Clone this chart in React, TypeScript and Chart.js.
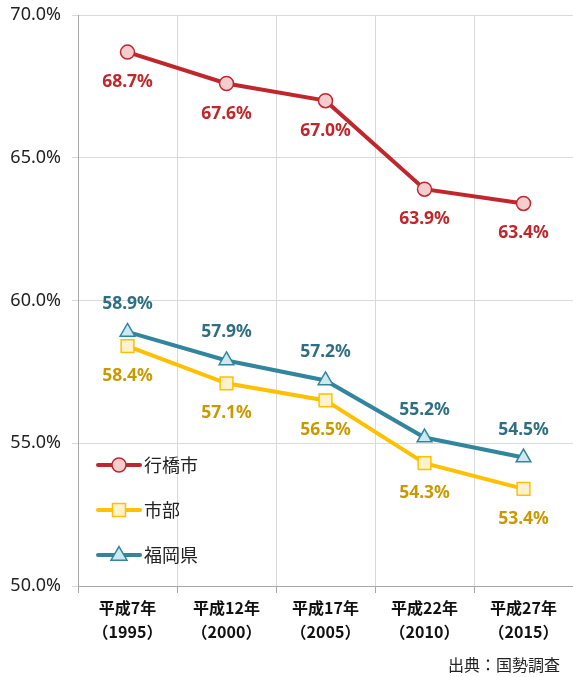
import React, { useEffect, useRef } from "react";
import { Chart, registerables } from "chart.js";

Chart.register(...registerables);

const categories: string[][] = [
  ["平成7年", "（1995）"],
  ["平成12年", "（2000）"],
  ["平成17年", "（2005）"],
  ["平成22年", "（2010）"],
  ["平成27年", "（2015）"],
];
const yukuhashi = [68.7, 67.6, 67.0, 63.9, 63.4];
const shibu = [58.4, 57.1, 56.5, 54.3, 53.4];
const fukuoka = [58.9, 57.9, 57.2, 55.2, 54.5];
const seriesNames = ["行橋市", "市部", "福岡県"];
const sourceText = "出典：国勢調査";

const series = [
  { name: seriesNames[0], data: yukuhashi, line: "#C0272D", fill: "#F6CDCF", text: "#C0272D", style: "circle", radius: 7, pr: 7, off: 30 },
  { name: seriesNames[1], data: shibu, line: "#FFC000", fill: "#FFF2CC", text: "#C89A00", style: "rect", radius: 6.5, pr: 9, off: 30 },
  { name: seriesNames[2], data: fukuoka, line: "#31869E", fill: "#CDE9F0", text: "#2F6F82", style: "triangle", radius: 8, pr: 8.5, off: -28 },
];

const FONT = "'Noto Sans', 'Noto Sans CJK JP', sans-serif";
const W = 573;
const H = 677;

function drawMarker(ctx: CanvasRenderingContext2D, style: string, x: number, y: number, r: number, fill: string, stroke: string) {
  ctx.save();
  ctx.fillStyle = fill;
  ctx.strokeStyle = stroke;
  ctx.lineWidth = 1.5;
  ctx.beginPath();
  if (style === "circle") {
    ctx.arc(x, y, r, 0, Math.PI * 2);
  } else if (style === "rect") {
    ctx.rect(x - r, y - r, r * 2, r * 2);
  } else {
    const h = r * 1.7;
    ctx.moveTo(x, y - h * 0.62);
    ctx.lineTo(x + r, y + h * 0.38);
    ctx.lineTo(x - r, y + h * 0.38);
    ctx.closePath();
  }
  ctx.fill();
  ctx.stroke();
  ctx.restore();
}

const customPlugin = {
  id: "customDraw",
  afterDatasetsDraw(chart: any) {
    const ctx: CanvasRenderingContext2D = chart.ctx;
    const area = chart.chartArea;
    series.forEach((s, i) => {
      const meta = chart.getDatasetMeta(i);
      meta.data.forEach((pt: any, j: number) => {
        ctx.save();
        ctx.font = `bold 17.5px ${FONT}`;
        ctx.fillStyle = s.text;
        ctx.textAlign = "center";
        ctx.textBaseline = "middle";
        ctx.fillText(s.data[j].toFixed(1) + "%", pt.x, pt.y + s.off);
        ctx.restore();
      });
    });
    series.forEach((s, i) => {
      const y = area.top + 450 + i * 45;
      const x0 = area.left + 20;
      ctx.save();
      ctx.strokeStyle = s.line;
      ctx.lineWidth = 4;
      ctx.lineCap = "round";
      ctx.beginPath();
      ctx.moveTo(x0, y);
      ctx.lineTo(x0 + 42, y);
      ctx.stroke();
      ctx.restore();
      drawMarker(ctx, s.style, x0 + 21, y, s.radius, s.fill, s.line);
      ctx.save();
      ctx.font = `18px 'Noto Sans CJK JP', sans-serif`;
      ctx.fillStyle = "#222";
      ctx.textAlign = "left";
      ctx.textBaseline = "middle";
      ctx.fillText(s.name, x0 + 46, y);
      ctx.restore();
    });
    ctx.save();
    ctx.font = `16px 'Noto Sans CJK JP', sans-serif`;
    ctx.fillStyle = "#222";
    ctx.textAlign = "right";
    ctx.textBaseline = "middle";
    ctx.fillText(sourceText, chart.width - 13, chart.height - 12);
    ctx.restore();
  },
};

export default function App() {
  const ref = useRef<HTMLCanvasElement | null>(null);
  useEffect(() => {
    document.body.style.margin = "0";
    document.body.style.overflow = "hidden";
    if (!ref.current) return;
    const chart = new Chart(ref.current, {
      type: "line",
      data: {
        labels: categories as any,
        datasets: series.map((s) => ({
          label: s.name,
          data: s.data,
          borderColor: s.line,
          backgroundColor: s.fill,
          borderWidth: 4,
          pointStyle: s.style as any,
          pointRadius: s.pr,
          pointBorderWidth: 1.5,
          pointBorderColor: s.line,
          pointBackgroundColor: s.fill,
          tension: 0,
          clip: false as any,
        })),
      },
      options: {
        animation: false,
        responsive: false,
        devicePixelRatio: 1,
        layout: { autoPadding: false, padding: { top: 15, right: 0, left: 0, bottom: 0 } },
        plugins: { legend: { display: false }, tooltip: { enabled: false } },
        scales: {
          x: {
            offset: true,
            grid: { offset: true, color: "#D9D9D9", tickLength: 7, tickColor: "#A6A6A6", drawTicks: true },
            border: { color: "#A6A6A6", width: 1 },
            ticks: {
              color: "#111",
              font: { size: 16, weight: "bold", family: "'Noto Sans CJK JP', sans-serif", lineHeight: 1.5 },
              padding: 3,
              maxRotation: 0,
              autoSkip: false,
            },
            afterFit: (scale: any) => {
              scale.height = 91;
              scale.paddingLeft = 0;
              scale.paddingRight = 0;
            },
          },
          y: {
            min: 50,
            max: 70,
            grid: { color: "#D9D9D9", tickLength: 6, tickColor: "#D9D9D9" },
            border: { color: "#A6A6A6", width: 1 },
            ticks: {
              stepSize: 5,
              color: "#222",
              font: { size: 18, family: FONT },
              padding: 11,
              callback: (v: any) => Number(v).toFixed(1) + "%",
            },
            afterFit: (scale: any) => {
              scale.width = 78;
              scale.paddingTop = 0;
              scale.paddingBottom = 0;
            },
          },
        },
      },
      plugins: [customPlugin],
    });
    return () => chart.destroy();
  }, []);
  return <canvas ref={ref} width={W} height={H} style={{ display: "block", width: W, height: H }} />;
}
